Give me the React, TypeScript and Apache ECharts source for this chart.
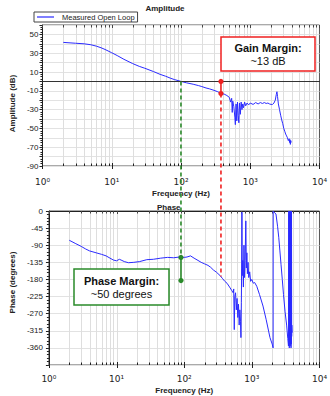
import React, { useEffect, useRef } from "react";
import * as echarts from "echarts";

// ---------- data ----------
const ampFreq = [2, 2.5, 3, 4, 5, 6, 7, 8, 10, 12, 15, 20, 25, 30, 40, 50, 60, 70, 80, 100, 120, 150, 180, 200, 230, 260, 300, 340, 380, 420, 460, 500, 520, 540, 550, 560, 580, 600, 610, 625, 640, 655, 670, 685, 700, 720, 740, 760, 780, 800, 830, 860, 900, 950, 1000, 1100, 1200, 1300, 1400, 1500, 1600, 1700, 1800, 1900, 2000, 2100, 2200, 2300, 2380, 2430, 2480, 2550, 2650, 2750, 2850, 2950, 3050, 3150, 3250, 3350, 3450, 3550, 3650, 3700, 3750, 3800, 3850, 3900];
const ampDb = [41.5, 41, 40.6, 40, 39, 37.5, 35.8, 34, 30.5, 27.5, 23.5, 19, 16, 14, 10.5, 7.5, 5.5, 3.5, 2, 0, -1.5, -3, -4.5, -5.5, -7, -8, -9.5, -11, -13, -13.5, -15, -17, -22, -18, -33, -21, -27, -38, -46, -24, -42, -22, -36, -44, -23, -35, -22, -30, -24, -28, -22, -26, -23, -25, -23, -24.5, -22.5, -24, -22.5, -23.5, -22.5, -23.5, -23, -24, -24.5, -24.5, -23, -20, -14, -11, -16, -24, -30, -36, -41, -45, -50, -53, -56, -58, -60, -63, -61, -65, -62, -67, -63, -65];

const phaseFreq = [2, 2.5, 3, 3.5, 4, 5, 6, 7, 8, 9, 10, 11, 12, 13, 15, 18, 22, 28, 35, 45, 57, 70, 85, 100, 110, 124, 140, 160, 178, 200, 225, 246, 270, 300, 340, 370, 399, 430, 469, 500, 530, 540, 550, 560, 575, 590, 605, 620, 635, 650, 665, 680, 690, 700, 707, 714, 722, 735, 750, 765, 780, 795, 815, 830, 845, 860, 880, 900, 930, 960, 1000, 1050, 1100, 1183, 1300, 1463, 1632, 1855, 2000, 2064, 2070, 2100, 2275, 2400, 2500, 2600, 2700, 2820, 2940, 3100, 3270, 3400, 3480, 3500, 3520, 3540, 3560, 3580, 3600, 3620, 3650, 3680, 3700, 3720, 3740, 3760, 3780, 3800, 3820, 3840, 3860, 3880, 3900, 3950];
const phaseDeg = [-77, -86, -93, -100, -105, -110, -114, -118, -124, -129, -131, -127, -130, -133, -136, -135, -133, -128, -127, -124, -122, -123, -121, -122, -121, -118, -124, -130, -135, -139, -143, -148, -155, -161, -170, -178, -185, -190, -200, -208, -215, -205, -312, -225, -215, -260, -230, -280, -245, -300, -260, -290, -333, -240, -150, -3, -170, -130, -200, -90, -175, -130, -26, -150, -110, -165, -135, -175, -160, -185, -180, -190, -188, -198, -220, -250, -286, -333, -350, -360, 0, -2, -8, -40, -69, -105, -140, -180, -220, -265, -300, -335, -355, -340, 0, -350, -5, -360, -2, -345, 0, -355, -10, -350, 0, -340, -5, -360, -3, -350, 0, -330, -300, -320];

const gridFreqs = [2, 3, 4, 5, 6, 7, 8, 9, 20, 30, 40, 50, 60, 70, 80, 90, 200, 300, 400, 500, 600, 700, 800, 900, 2000, 3000, 4000, 5000, 6000, 7000, 8000, 9000];
const decadeFreqs = [1, 10, 100, 1000, 10000];
const decadeLabels = ["10\u2070", "10\u00b9", "10\u00b2", "10\u00b3", "10\u2074"];

// annotations (data values)
const gainFreq = 378;
const gainAmpTop = 0;
const gainAmpBottom = -13;
const gainPhaseEnd = -172;
const pmFreq = 100;
const pmAmp = 0;
const pmPhase = -122;
const pmPhaseRef = -183;

const FONT = "Liberation Sans, Arial, sans-serif";
const BLUE = "#2b2bff";
const RED = "#f02020";
const GREEN = "#2a8a2a";

function gridSeries(idx: number, yRef: number, freqs: number[], major: boolean) {
  return {
    type: "custom",
    xAxisIndex: idx,
    yAxisIndex: idx,
    silent: true,
    z: 1,
    clip: false,
    data: freqs.map((f) => [f, yRef]),
    renderItem: (params: any, api: any) => {
      const cs = params.coordSys;
      const x = Math.round(api.coord([api.value(0), api.value(1)])[0]) + 0.5;
      const bottom = cs.y + cs.height;
      const top = cs.y;
      const len = major ? 3 : 2.5;
      const children: any[] = [];
      if (x > cs.x + 1 && x < cs.x + cs.width - 1) {
        children.push({ type: "line", shape: { x1: x, y1: top, x2: x, y2: bottom }, style: { stroke: "#dedede", lineWidth: 1 } });
      }
      children.push({ type: "line", shape: { x1: x, y1: bottom + (major ? 3 : 0), x2: x, y2: bottom - len }, style: { stroke: "#222", lineWidth: 1 } });
      children.push({ type: "line", shape: { x1: x, y1: top, x2: x, y2: top + len }, style: { stroke: "#444", lineWidth: 1 } });
      return { type: "group", children };
    },
  };
}

const xLabelFmt = (v: number) => {
  const i = decadeFreqs.findIndex((d) => Math.abs(d - v) / d < 1e-6);
  return i >= 0 ? decadeLabels[i] : "";
};

function xAxisCfg(gridIndex: number, gap: number, margin: number) {
  return {
    type: "log",
    logBase: 10,
    gridIndex,
    min: 1,
    max: 10000,
    name: "Frequency (Hz)",
    nameLocation: "middle",
    nameGap: gap,
    nameTextStyle: { fontSize: 8, fontWeight: "bold", fontFamily: FONT, color: "#222" },
    axisLine: { lineStyle: { color: "#222", width: 1 } },
    axisTick: { show: false },
    splitLine: { show: false },
    minorTick: { show: false },
    axisLabel: { formatter: xLabelFmt, fontSize: 9, fontFamily: "DejaVu Sans, Liberation Sans, sans-serif", color: "#222", margin },
  };
}

export default function App() {
  const ref = useRef<HTMLDivElement>(null);
  useEffect(() => {
    if (!ref.current) return;
    const chart = echarts.init(ref.current, undefined, { renderer: "svg" });
    const option: any = {
      animation: false,
      textStyle: { fontFamily: FONT },
      title: [
        { text: "Amplitude", left: "center", top: 4, padding: 0, textStyle: { fontSize: 8, fontWeight: "bold", fontFamily: FONT, color: "#222" } },
        { text: "Phase", left: 157, top: 203, padding: 0, textStyle: { fontSize: 8, fontWeight: "bold", fontFamily: FONT, color: "#222" } },
      ],
      legend: {
        data: [{ name: "Measured Open Loop", icon: "rect" }],
        left: 34,
        top: 12,
        padding: [1, 3, 1, 3],
        borderColor: "#444",
        borderWidth: 1,
        itemWidth: 17,
        itemHeight: 1.2,
        itemGap: 4,
        textStyle: { fontSize: 7.5, fontFamily: FONT, color: "#222", padding: [0, 0, 0, 3] },
      },
      grid: [
        { left: 37, top: 25, width: 285, height: 141, show: true, borderColor: "#555", borderWidth: 1, backgroundColor: "transparent" },
        { left: 42, top: 211, width: 280, height: 154, show: true, borderColor: "#555", borderWidth: 1, backgroundColor: "transparent" },
      ],
      xAxis: [xAxisCfg(0, 23, 11), xAxisCfg(1, 21, 9)],
      yAxis: [
        {
          type: "value",
          gridIndex: 0,
          min: -90,
          max: 60,
          interval: 10,
          name: "Amplitude (dB)",
          nameLocation: "middle",
          nameGap: 23,
          nameTextStyle: { fontSize: 8, fontWeight: "bold", fontFamily: FONT, color: "#222", padding: [0, 0, 0, -16] },
          axisLine: { show: true, lineStyle: { color: "#222", width: 1 } },
          axisTick: { show: true, length: 3, lineStyle: { color: "#222" } },
          minorTick: { show: true, splitNumber: 4, length: 2, lineStyle: { color: "#222" } },
          splitLine: { show: true, lineStyle: { color: "#e2e2e2", width: 1 } },
          axisLabel: { fontSize: 8, fontFamily: FONT, color: "#222", margin: 4, formatter: (v: number) => ((v + 90) % 20 === 0 && v < 60 ? String(v) : "") },
        },
        {
          type: "value",
          gridIndex: 1,
          min: -405,
          max: 0,
          interval: 45,
          name: "Phase (degrees)",
          nameLocation: "middle",
          nameGap: 28,
          nameTextStyle: { fontSize: 8, fontWeight: "bold", fontFamily: FONT, color: "#222", padding: [0, -11, 0, 0] },
          axisLine: { show: true, lineStyle: { color: "#222", width: 1 } },
          axisTick: { show: true, length: 3, lineStyle: { color: "#222" } },
          minorTick: { show: true, splitNumber: 5, length: 2, lineStyle: { color: "#222" } },
          splitLine: { show: true, lineStyle: { color: "#e2e2e2", width: 1 } },
          axisLabel: { fontSize: 8, fontFamily: FONT, color: "#222", margin: 6, formatter: (v: number) => (v === -405 ? "" : String(v)) },
        },
      ],
      series: [
        gridSeries(0, 0, gridFreqs, false),
        gridSeries(0, 0, decadeFreqs, true),
        gridSeries(1, -100, gridFreqs, false),
        gridSeries(1, -100, decadeFreqs, true),
        {
          name: "Measured Open Loop",
          type: "line",
          xAxisIndex: 0,
          yAxisIndex: 0,
          showSymbol: false,
          symbol: "none",
          z: 3,
          lineStyle: { color: BLUE, width: 1 },
          itemStyle: { color: BLUE },
          data: ampFreq.map((f, i) => [f, ampDb[i]]),
          markLine: {
            silent: true,
            symbol: "none",
            label: { show: false },
            lineStyle: { color: "#333", width: 1, type: "solid" },
            data: [{ yAxis: 0 }],
          },
        },
        {
          name: "Phase",
          type: "line",
          xAxisIndex: 1,
          yAxisIndex: 1,
          showSymbol: false,
          symbol: "none",
          z: 3,
          lineStyle: { color: BLUE, width: 1 },
          data: phaseFreq.map((f, i) => [f, phaseDeg[i]]),
        },
      ],
    };
    chart.setOption(option);

    const p0 = (pt: number[]) => chart.convertToPixel({ xAxisIndex: 0, yAxisIndex: 0 }, pt) as number[];
    const p1 = (pt: number[]) => chart.convertToPixel({ xAxisIndex: 1, yAxisIndex: 1 }, pt) as number[];

    const gTop = p0([gainFreq, gainAmpTop]);
    const gBot = p0([gainFreq, gainAmpBottom]);
    const gEnd = p1([gainFreq, gainPhaseEnd]);
    const gx = gTop[0];

    const pTop = p0([pmFreq, pmAmp]);
    const pPh = p1([pmFreq, pmPhase]);
    const pRef = p1([pmFreq, pmPhaseRef]);
    const px = pTop[0];

    const dash = [4, 3];
    chart.setOption({
      graphic: [
        { type: "line", z: 10, shape: { x1: gx, y1: gBot[1], x2: gx, y2: gEnd[1] }, style: { stroke: RED, lineWidth: 1.6, lineDash: dash } },
        { type: "line", z: 10, shape: { x1: gx, y1: gTop[1], x2: gx, y2: gBot[1] }, style: { stroke: RED, lineWidth: 1.6 } },
        { type: "circle", z: 11, shape: { cx: gx, cy: gTop[1], r: 2.6 }, style: { fill: RED } },
        { type: "circle", z: 11, shape: { cx: gx, cy: gBot[1], r: 2.6 }, style: { fill: RED } },

        { type: "line", z: 10, shape: { x1: px, y1: pTop[1], x2: px, y2: pPh[1] }, style: { stroke: GREEN, lineWidth: 1.6, lineDash: dash } },
        { type: "line", z: 10, shape: { x1: px, y1: pPh[1], x2: px, y2: pRef[1] }, style: { stroke: GREEN, lineWidth: 1.6 } },
        { type: "circle", z: 11, shape: { cx: px, cy: pPh[1], r: 2.6 }, style: { fill: GREEN } },
        { type: "circle", z: 11, shape: { cx: px, cy: pRef[1], r: 2.6 }, style: { fill: GREEN } },

        { type: "rect", z: 12, shape: { x: 221, y: 37, width: 94, height: 34 }, style: { fill: "#fff", stroke: RED, lineWidth: 1.5 } },
        { type: "text", z: 13, x: 268, y: 47.5, style: { text: "Gain Margin:", fontSize: 11, fontWeight: "bold", fontFamily: FONT, fill: "#111", align: "center", verticalAlign: "middle" } },
        { type: "text", z: 13, x: 268, y: 60.5, style: { text: "~13 dB", fontSize: 11, fontFamily: FONT, fill: "#111", align: "center", verticalAlign: "middle" } },

        { type: "rect", z: 12, shape: { x: 74, y: 269, width: 95, height: 36 }, style: { fill: "#fff", stroke: GREEN, lineWidth: 1.5 } },
        { type: "text", z: 13, x: 121.5, y: 281, style: { text: "Phase Margin:", fontSize: 11, fontWeight: "bold", fontFamily: FONT, fill: "#111", align: "center", verticalAlign: "middle" } },
        { type: "text", z: 13, x: 121.5, y: 294, style: { text: "~50 degrees", fontSize: 11, fontFamily: FONT, fill: "#111", align: "center", verticalAlign: "middle" } },
      ],
    });

    return () => chart.dispose();
  }, []);
  return <div ref={ref} style={{ width: 330, height: 396, position: "absolute", left: 0, top: 0 }} />;
}
